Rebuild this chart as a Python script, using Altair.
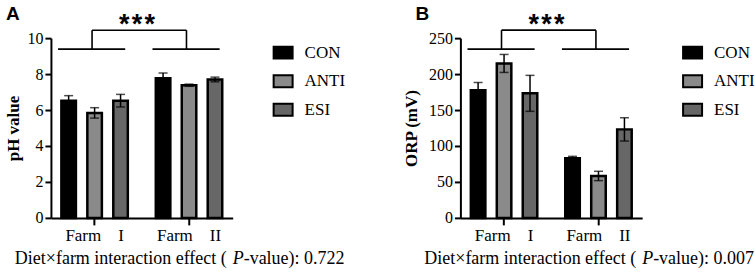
import altair as alt
import pandas as pd

# ---- data -------------------------------------------------------------
treatments = ["CON", "ANTI", "ESI"]
farms = ["Farm I", "Farm II"]
fills = ["#000000", "#8a8a8a", "#676767"]

# means and SEM, ordered Farm I (CON, ANTI, ESI), Farm II (CON, ANTI, ESI)
ph_mean = [6.52, 5.84, 6.52, 7.77, 7.38, 7.70]
ph_sem = [0.28, 0.29, 0.35, 0.29, 0.06, 0.13]
orp_mean = [177.5, 214.8, 173.2, 82.9, 58.3, 123.1]
orp_sem = [10.8, 12.5, 25.0, 2.7, 6.5, 16.2]

ph_ticks = [0, 2, 4, 6, 8, 10]
orp_ticks = [0, 50, 100, 150, 200, 250]

# significance bracket: arm level, bridge level, star baseline
ph_bracket = [9.39, 10.44, 10.3]
orp_bracket = [234.7, 261.1, 257.5]

ph_interaction_p = "0.722"
orp_interaction_p = "0.007"

SERIF = "Liberation Serif"
SANS = "Liberation Sans"


def panel(letter, ytitle, means, sems, ticks, bracket, pval, title_x):
    rows = []
    i = 0
    for f in farms:
        for t in treatments:
            rows.append({"farm": f, "trt": t, "mean": means[i],
                         "lo": means[i] - sems[i], "hi": means[i] + sems[i]})
            i += 1
    df = pd.DataFrame(rows)

    xscale = alt.Scale(domain=farms, paddingInner=0.1, paddingOuter=0.0125)
    yscale = alt.Scale(domain=[0, ticks[-1]], nice=False)
    xaxis = alt.Axis(title=None, labelAngle=0, labelPadding=3, tickSize=7,
                     labelFont=SERIF, labelFontSize=17, labelColor="black",
                     labelExpr="replace(datum.label, ' ', '\u00a0\u00a0\u00a0\u00a0')",
                     domain=True, ticks=True, grid=False, domainColor="black",
                     domainWidth=2, tickColor="black", tickWidth=2)
    yaxis = alt.Axis(values=ticks, title=ytitle, titleX=title_x, titleY=90,
                     titleBaseline="middle", titleAlign="center",
                     titleFont=SERIF, titleFontWeight="bold", titleFontSize=17,
                     titleColor="black", labelFont=SERIF, labelFontSize=16,
                     labelColor="black", labelPadding=2, tickSize=6,
                     domain=True, ticks=True, grid=False, domainColor="black",
                     domainWidth=2, tickColor="black", tickWidth=2)

    def X(field="farm", bp=None):
        if bp is None:
            return alt.X(f"{field}:N", scale=xscale, axis=xaxis)
        return alt.X(f"{field}:N", scale=xscale, axis=xaxis, bandPosition=bp)

    def Y(field):
        return alt.Y(f"{field}:Q", scale=yscale, axis=yaxis)

    xoff = alt.XOffset("trt:N", scale=alt.Scale(domain=treatments,
                                                paddingInner=0.44,
                                                paddingOuter=0.357))

    bars = alt.Chart(df).mark_bar(stroke="black", strokeWidth=2.5).encode(
        x=X(),
        xOffset=xoff,
        y=Y("mean"),
        fill=alt.Fill("trt:N", scale=alt.Scale(domain=treatments, range=fills),
                      legend=alt.Legend(title=None, orient="none", legendX=222,
                                        legendY=4, padding=0,
                                        symbolType="M-1,-0.63H1V0.63H-1Z",
                                        symbolSize=361,
                                        symbolStrokeColor="black",
                                        symbolStrokeWidth=2,
                                        labelFont=SERIF, labelFontSize=17,
                                        labelColor="black", labelOffset=11,
                                        rowPadding=7.6)),
    )

    err = alt.Chart(df).mark_rule(color="black", strokeWidth=1.5).encode(
        x=X(), xOffset=xoff, y=Y("lo"), y2="hi:Q")
    cap_hi = alt.Chart(df).mark_tick(color="black", thickness=1.5, size=9).encode(
        x=X(), xOffset=xoff, y=Y("hi"))
    cap_lo = alt.Chart(df).mark_tick(color="black", thickness=1.5, size=9).encode(
        x=X(), xOffset=xoff, y=Y("lo"))

    # bracket over the two farms
    arms_df = pd.DataFrame({"farm": farms, "y": [bracket[0]] * 2,
                            "y2": [bracket[1]] * 2})
    arms = alt.Chart(arms_df).mark_rule(color="black", strokeWidth=1.6).encode(
        x=X(bp=0.07),
        x2=alt.X2("farm:N", bandPosition=0.86),
        y=Y("y"))
    legs = alt.Chart(arms_df).mark_rule(color="black", strokeWidth=1.6).encode(
        x=X(bp=0.47), y=Y("y"), y2="y2:Q")
    bridge_df = pd.DataFrame({"farm": [farms[0]], "b": [farms[1]], "y": [bracket[1]]})
    bridge = alt.Chart(bridge_df).mark_rule(color="black", strokeWidth=1.6).encode(
        x=X(bp=0.47),
        x2=alt.X2("b:N", bandPosition=0.47),
        y=Y("y"))
    stars_df = pd.DataFrame({"farm": [farms[0]], "y": [bracket[2]],
                             "t": ["*\u200a*\u200a*"]})
    stars = alt.Chart(stars_df).mark_text(
        font=SANS, fontWeight="bold", fontSize=27, baseline="alphabetic",
        align="center").encode(x=X(bp=1), y=Y("y"), text="t:N")

    # panel letter
    letter_mark = alt.Chart(pd.DataFrame({"t": [letter]})).mark_text(
        font=SANS, fontWeight="bold", fontSize=19, align="left",
        baseline="top").encode(x=alt.value(-45), y=alt.value(-33), text="t:N")

    # caption: "Diet×farm interaction effect ( P-value): x"
    cap_y = 226
    xp = 182
    cap1 = alt.Chart(pd.DataFrame({"t": ["Diet×farm interaction effect ("]})).mark_text(
        font=SERIF, fontSize=18, align="right", baseline="alphabetic",
        color="black").encode(x=alt.value(xp - 6), y=alt.value(cap_y), text="t:N")
    cap2 = alt.Chart(pd.DataFrame({"t": ["P"]})).mark_text(
        font=SERIF, fontSize=18, fontStyle="italic", align="left",
        baseline="alphabetic", color="black").encode(
        x=alt.value(xp), y=alt.value(cap_y), text="t:N")
    cap3 = alt.Chart(pd.DataFrame({"t": ["-value): " + pval]})).mark_text(
        font=SERIF, fontSize=18, align="left", baseline="alphabetic",
        color="black").encode(x=alt.value(xp + 11), y=alt.value(cap_y), text="t:N")

    return alt.layer(bars, err, cap_hi, cap_lo, arms, legs, bridge, stars,
                     letter_mark, cap1, cap2, cap3).properties(width=182, height=180)


pa = panel("A", "pH value", ph_mean, ph_sem, ph_ticks, ph_bracket,
           ph_interaction_p, -37)
pb = panel("B", "ORP (mV)", orp_mean, orp_sem, orp_ticks, orp_bracket,
           orp_interaction_p, -49)

chart = alt.hconcat(pa, pb, spacing=228, bounds="flush").resolve_scale(
    x="independent", y="independent", fill="independent"
).resolve_legend(fill="independent").configure_view(stroke=None).properties(
    padding={"left": 5, "top": 5, "right": 0, "bottom": 0},
    autosize=alt.AutoSizeParams(type="pad"),
    background="white",
)

chart.save("out.html", embed_options={"renderer": "svg", "actions": False})
